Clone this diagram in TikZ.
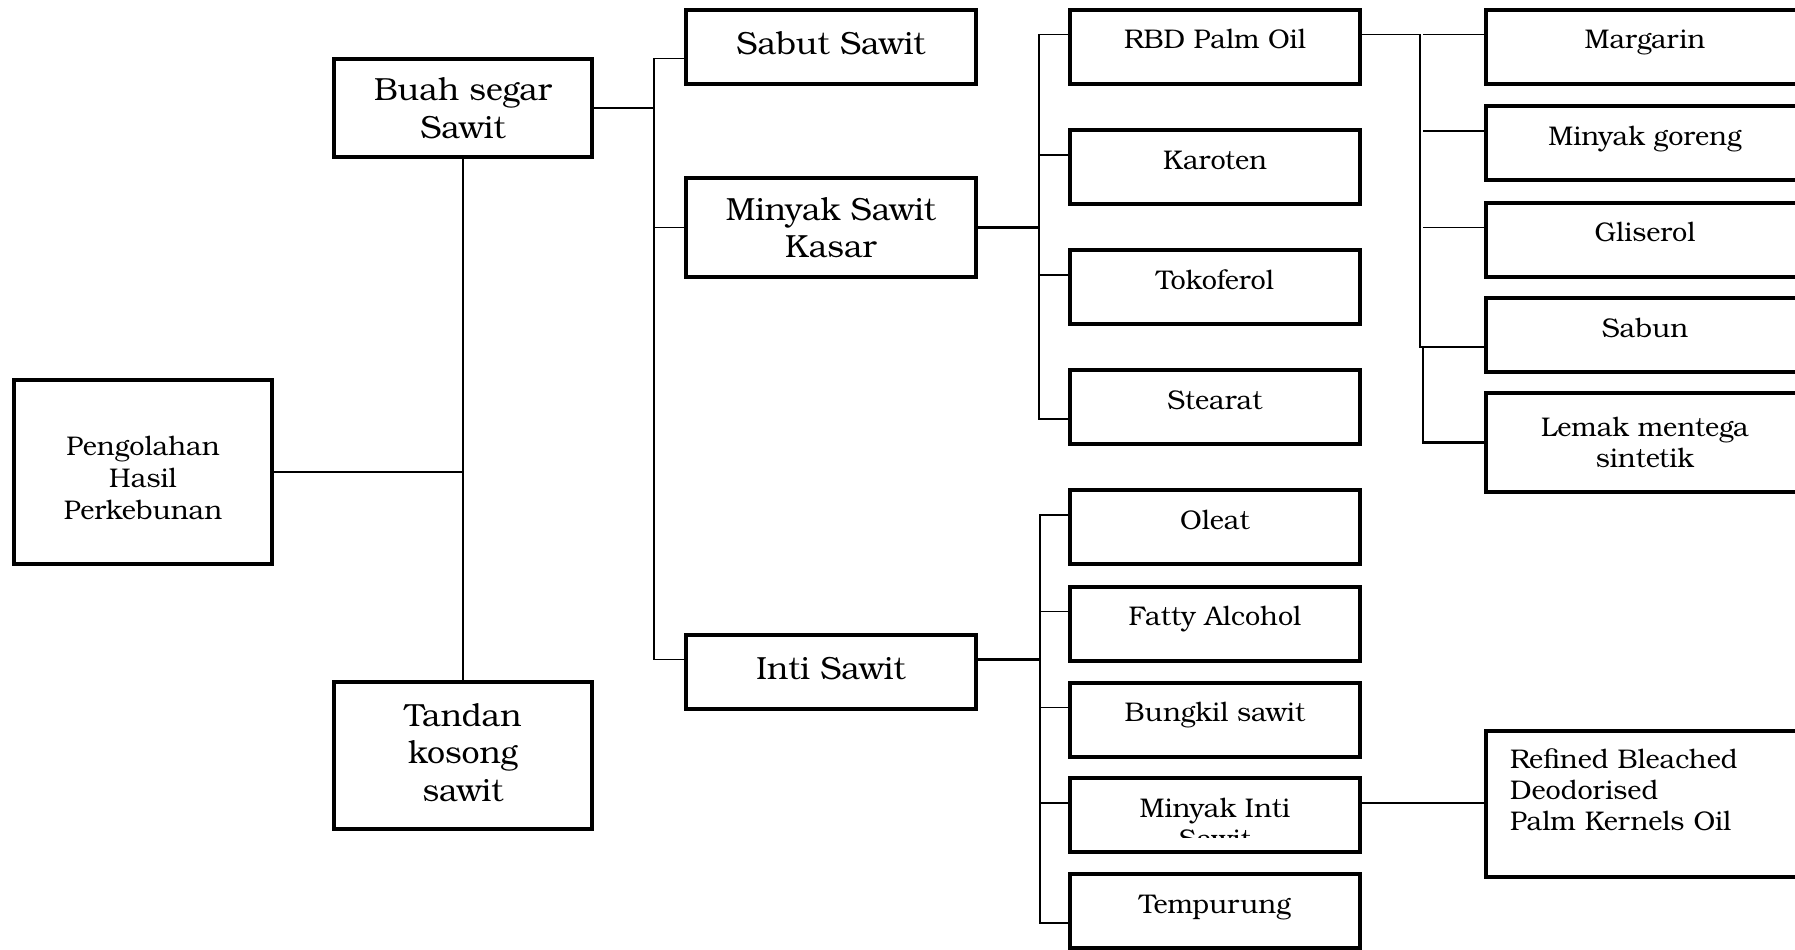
\documentclass[tikz,border=0pt]{standalone}
\usepackage{fontspec}
\setmainfont{texgyrebonum-regular.otf}

\begin{document}
\begin{tikzpicture}[x=0.5pt,y=-0.5pt,
    box/.style={draw,line width=2pt,minimum width=145pt,minimum height=37pt,inner sep=0pt},
    big/.style={font=\fontsize{16}{18.75}\selectfont,align=center},
    bigup/.style={big,text height=12pt,text depth=4.5pt},
    small/.style={font=\fontsize{13.5}{15.5}\selectfont,align=center},
    lifted/.style={small,text height=10pt,text depth=8pt},
    conn/.style={line width=0.9pt},
    main/.style={line width=1.2pt}]
    \useasboundingbox (0,0) rectangle (1795,949);
    \node[box,small,font=\fontsize{13.5}{16}\selectfont,text height=47.5pt,minimum width=129pt,minimum height=92pt] (peng) at (143,472) {Pengolahan\\Hasil\\Perkebunan};
    \node[box,big,minimum width=129pt,minimum height=49pt] (buah) at (463,108) {Buah segar\\Sawit};
    \node[box,big,text depth=3pt,minimum width=129pt,minimum height=73.5pt] (tandan) at (463,755.5) {Tandan\\kosong\\sawit};
    \node[box,bigup] (sabut) at (831,46.5) {Sabut Sawit};
    \node[box,big,minimum height=49.5pt] (mska) at (831,227.5) {Minyak Sawit\\Kasar};
    \node[box,bigup] (inti) at (831,671.5) {Inti Sawit};
    \node[box,lifted] (rbd) at (1215,46.5) {RBD Palm Oil};
    \node[box,lifted] (karoten) at (1215,167) {Karoten};
    \node[box,lifted] (tokoferol) at (1215,287) {Tokoferol};
    \node[box,lifted] (stearat) at (1215,407) {Stearat};
    \node[box,lifted] (oleat) at (1215,527) {Oleat};
    \node[box,lifted] (fatty) at (1215,623.5) {Fatty Alcohol};
    \node[box,lifted] (bungkil) at (1215,719.5) {Bungkil sawit};
    \node[box,lifted] (mis) at (1215,815) {Minyak Inti};
    \node[box,lifted] (tempurung) at (1215,911) {Tempurung};
    \begin{scope}
      \clip (1072,780) rectangle (1358,837);
      \node[small,anchor=base,inner sep=0pt] (missawit) at (1215,848) {Sawit};
    \end{scope}
    \node[box,lifted,minimum width=159pt] (margarin) at (1645,46.5) {Margarin};
    \node[box,lifted,minimum width=159pt] (goreng) at (1645,143) {Minyak goreng};
    \node[box,lifted,minimum width=159pt] (gliserol) at (1645,239.5) {Gliserol};
    \node[box,lifted,minimum width=159pt] (sabun) at (1645,335) {Sabun};
    \node[box,small,minimum width=159pt,minimum height=49.5pt] (lemak) at (1645,442.5) {Lemak mentega\\sintetik};
    \node[box,small,align=left,text width=140pt,inner xsep=12pt,minimum height=73pt,text height=10pt,text depth=46pt] (rbdpko) at (1650,804) {Refined Bleached\\Deodorised\\Palm Kernels Oil};
    \coordinate (bus1) at (654,0);
    \coordinate (bus2) at (1039,0);
    \coordinate (bus3) at (1040,0);
    \coordinate (bus4) at (1420,0);
    \coordinate (bus5) at (1423,0);
    \draw[main] (peng.east) -- (peng.east -| buah.south);
    \draw[conn] (buah.south) -- (tandan.north);
    \draw[main] (buah.east) -- (buah.east -| bus1);
    \coordinate (sabutin) at ([yshift=-6pt]sabut.west);
    \coordinate (intiin) at ([yshift=6pt]inti.west);
    \draw[conn] (sabutin) -| (bus1 |- intiin) -- (intiin);
    \draw[conn] (mska.west) -- (mska.west -| bus1);
    \draw[main] (mska.east) -- (mska.east -| bus2);
    \coordinate (rbdin) at ([yshift=6pt]rbd.west);
    \coordinate (stearatin) at ([yshift=-6pt]stearat.west);
    \draw[conn] (rbdin) -| (bus2 |- stearatin) -- (stearatin);
    \foreach \n in {karoten,tokoferol} {
      \coordinate (\n in) at ([yshift=6pt]\n.west);
      \draw[conn] (\n in) -- (\n in -| bus2);
    }
    \coordinate (intiout) at ([yshift=6pt]inti.east);
    \draw[main] (intiout) -- (intiout -| bus3);
    \coordinate (oleatin) at ([yshift=6pt]oleat.west);
    \coordinate (tempurungin) at ([yshift=-6pt]tempurung.west);
    \draw[conn] (oleatin) -| (bus3 |- tempurungin) -- (tempurungin);
    \foreach \n in {fatty,bungkil,mis} {
      \coordinate (\n in) at ([yshift=6pt]\n.west);
      \draw[conn] (\n in) -- (\n in -| bus3);
    }
    \coordinate (rbdout) at ([yshift=6pt]rbd.east);
    \coordinate (sabunin) at ([yshift=-6pt]sabun.west);
    \draw[conn] (rbdout) -| (bus4 |- sabunin) -- (sabunin);
    \draw[main] (sabunin -| bus5) -- (bus5 |- lemak.west) -- (lemak.west);
    \foreach \n in {margarin,goreng,gliserol} {
      \coordinate (\n in) at ([yshift=6pt]\n.west);
      \draw[conn] (\n in) -- (\n in -| bus5);
    }
    \coordinate (misout) at ([yshift=6pt]mis.east);
    \draw[main] (misout) -- (misout -| rbdpko.west);
\end{tikzpicture}
\end{document}
